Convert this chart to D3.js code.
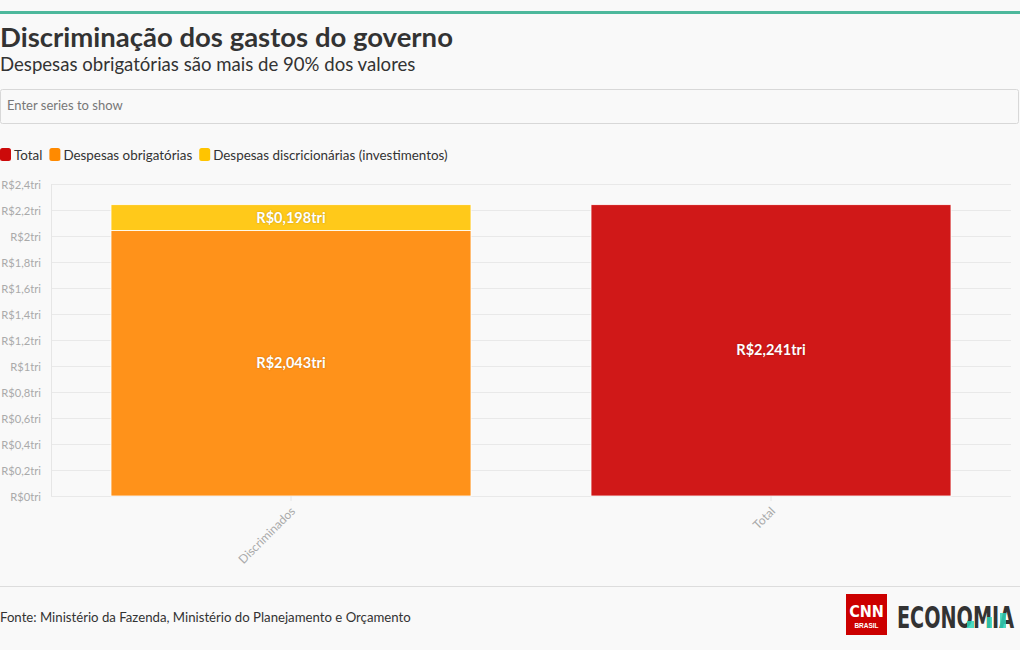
<!DOCTYPE html>
<html><head><meta charset="utf-8">
<script src="https://cdn.jsdelivr.net/npm/d3@7"></script>
<style>
html,body{margin:0;padding:0;background:#f9f9f9;}
svg{display:block;font-family:"Source Sans Pro",Lato,"Noto Sans",sans-serif;}
</style></head><body>
<svg id="c" width="1020" height="650"></svg>
<script>
const title = "Discriminação dos gastos do governo";
const subtitle = "Despesas obrigatórias são mais de 90% dos valores";
const source = "Fonte: Ministério da Fazenda, Ministério do Planejamento e Orçamento";
const categories = ["Discriminados", "Total"];
const seriesNames = ["Total", "Despesas obrigatórias", "Despesas discricionárias (investimentos)"];
const seriesColors = ["#d01818", "#ff921a", "#ffc91a"];
const legendColors = ["#cc0a0a", "#ff8a00", "#ffc400"];
const totalValues = [0, 2.241];
const obrigatoriasValues = [2.043, 0];
const discricionariasValues = [0.198, 0];
const yTicks = [0,0.2,0.4,0.6,0.8,1,1.2,1.4,1.6,1.8,2,2.2,2.4];

const svg = d3.select("#c");
const fmt = v => "R$" + String(Math.round(v*1000)/1000).split(".").join(",") + "tri";

// top rule
svg.append("rect").attr("x",0).attr("y",11).attr("width",1020).attr("height",3).attr("fill","#4db89c");
svg.append("text").attr("x",0).attr("y",47).attr("font-size",27.5).attr("font-weight",700).attr("fill","#333").text(title);
svg.append("text").attr("x",0).attr("y",71).attr("font-size",18.6).attr("fill","#333").text(subtitle);

// search box
svg.append("rect").attr("x",0.5).attr("y",89.5).attr("width",1018).attr("height",34).attr("rx",2)
  .attr("fill","#f9f9f9").attr("stroke","#d8d8d8");
svg.append("text").attr("x",7).attr("y",110).attr("font-size",13).attr("fill","#777").text("Enter series to show");

// legend
const leg = svg.append("g").attr("transform","translate(0,148)");
let lx = 0;
seriesNames.forEach((n,i)=>{
  const g = leg.append("g").attr("transform",`translate(${lx},0)`);
  g.append("rect").attr("x",0).attr("y",0).attr("width",11).attr("height",13).attr("rx",2.5).attr("fill",legendColors[i]);
  const t = g.append("text").attr("x",14).attr("y",11.5).attr("font-size",13.4).attr("fill","#333").text(n);
  lx += 14 + t.node().getComputedTextLength() + 7;
});

// chart
const m = {l:51, r:1011, t:184, b:496};
const x = d3.scaleBand().domain(categories).range([m.l, m.r]).paddingInner(0.25).paddingOuter(0.125);
const y = d3.scaleLinear().domain([0,2.4]).range([m.b, m.t]);

const gy = svg.append("g");
gy.selectAll("line").data(yTicks).join("line")
  .attr("x1",m.l).attr("x2",m.r).attr("y1",d=>y(d)+0.5).attr("y2",d=>y(d)+0.5)
  .attr("stroke","#e9e9e9");
gy.append("line").attr("x1",m.l+0.5).attr("x2",m.l+0.5).attr("y1",m.t).attr("y2",m.b).attr("stroke","#e6e6e6");
gy.selectAll("text").data(yTicks).join("text")
  .attr("x",41).attr("y",d=>y(d)+4.5).attr("text-anchor","end").attr("font-size",11.2).attr("fill","#aaa")
  .text(d=>fmt(d));

// stacked data
const rows = categories.map((c,i)=>({cat:c, "Total":totalValues[i], "Despesas obrigatórias":obrigatoriasValues[i], "Despesas discricionárias (investimentos)":discricionariasValues[i]}));
const stack = d3.stack().keys(seriesNames)(rows);
stack.forEach((s,si)=>{
  const g = svg.append("g");
  s.forEach(d=>{
    const v = d[1]-d[0];
    if(v<=0) return;
    g.append("rect").attr("x",x(d.data.cat)).attr("width",x.bandwidth())
      .attr("y",y(d[1])).attr("height",y(d[0])-y(d[1]))
      .attr("fill",seriesColors[si]).attr("stroke","#fff").attr("stroke-width",0.8);
    g.append("text").attr("x",x(d.data.cat)+x.bandwidth()/2).attr("y",(y(d[0])+y(d[1]))/2+5)
      .attr("text-anchor","middle").attr("font-size",14.5).attr("font-weight",700).attr("fill","#fff")
      .style("text-shadow","0 0 2px rgba(0,0,0,0.25)")
      .text(fmt(v));
  });
});

// x labels
const gx = svg.append("g");
categories.forEach(c=>{
  const cx = x(c)+x.bandwidth()/2;
  gx.append("line").attr("x1",cx).attr("x2",cx).attr("y1",m.b).attr("y2",m.b+5).attr("stroke","#e6e6e6");
  gx.append("text").attr("transform",`translate(${cx+5},${m.b+16}) rotate(-45)`)
    .attr("text-anchor","end").attr("font-size",12).attr("fill","#aaa").text(c);
});

// footer
svg.append("line").attr("x1",0).attr("x2",1020).attr("y1",586.5).attr("y2",586.5).attr("stroke","#ddd");
svg.append("text").attr("x",0).attr("y",622).attr("font-size",13.2).attr("fill","#333").text(source);

// logo
const logo = svg.append("g").attr("transform","translate(846,594)");
logo.append("rect").attr("width",41).attr("height",41).attr("fill","#cc0000");
logo.append("text").attr("x",20.5).attr("y",23).attr("text-anchor","middle").attr("font-size",16).attr("font-weight",700)
  .attr("fill","#fff").attr("font-family","'Liberation Sans Narrow','DejaVu Sans Condensed',sans-serif").text("CNN");
logo.append("text").attr("x",20.5).attr("y",34).attr("text-anchor","middle").attr("font-size",6.5).attr("font-weight",700)
  .attr("fill","#fff").attr("font-family","'Liberation Sans',sans-serif").text("BRASIL");
const ecoG = svg.append("g");
const eco = ecoG.append("text").attr("x",0).attr("y",0).attr("font-size",31).attr("font-weight",700)
  .attr("fill","#333").attr("font-family","'Liberation Sans Narrow','DejaVu Sans Condensed',sans-serif")
  .text("ECONOMIA");
const ew = eco.node().getComputedTextLength();
ecoG.attr("transform",`translate(897,628) scale(${Math.min(1,117/ew)},1)`);
// teal accents on MIA
const acc = svg.append("g").attr("fill","#2ed3b7");
[[967,621,7,7],[987,617,5,11],[1000,613,6,15]].forEach(a=>acc.append("rect").attr("x",a[0]).attr("y",a[1]).attr("width",a[2]).attr("height",a[3]).attr("opacity",0.85));
</script>
</body></html>
